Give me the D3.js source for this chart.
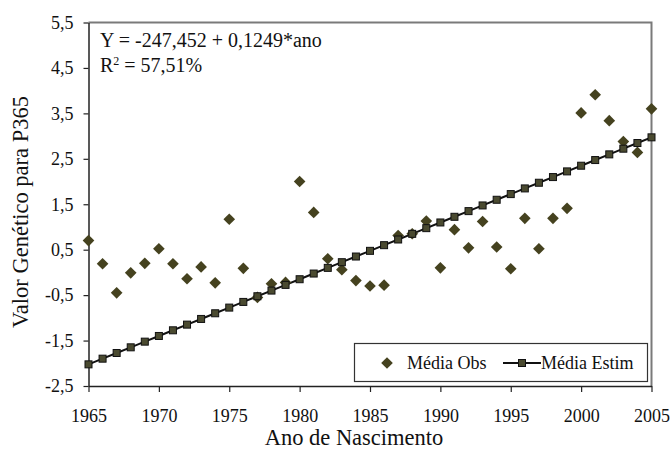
<!DOCTYPE html>
<html>
<head>
<meta charset="utf-8">
<script src="https://cdn.jsdelivr.net/npm/d3@7/dist/d3.min.js"></script>
<style>
  html, body { margin: 0; padding: 0; background: #fff; }
  svg { display: block; }
  svg text { font-family: "Liberation Serif", "Times New Roman", serif; }
</style>
</head>
<body>
<svg id="chart" width="672" height="455"></svg>
<script>
// Birth years
const years = [1965,1966,1967,1968,1969,1970,1971,1972,1973,1974,1975,1976,1977,1978,1979,1980,
  1981,1982,1983,1984,1985,1986,1987,1988,1989,1990,1991,1992,1993,1994,1995,1996,1997,1998,1999,
  2000,2001,2002,2003,2004,2005];

// Observed mean genetic value (P365)
const mediaObs = [0.70,0.19,-0.45,-0.01,0.20,0.52,0.19,-0.14,0.12,-0.23,1.17,0.09,-0.55,-0.25,-0.22,2.00,
  1.32,0.30,0.06,-0.18,-0.30,-0.28,0.81,0.85,1.13,0.10,0.94,0.54,1.12,0.56,0.08,1.19,0.52,1.19,1.41,
  3.51,3.91,3.34,2.88,2.64,3.60];

// Estimated mean: Y = -247,452 + 0,1249*ano
const mediaEstim = [-2.0235,-1.8986,-1.7737,-1.6488,-1.5239,-1.3990,-1.2741,-1.1492,-1.0243,-0.8994,
  -0.7745,-0.6496,-0.5247,-0.3998,-0.2749,-0.1500,-0.0251,0.0998,0.2247,0.3496,0.4745,0.5994,0.7243,
  0.8492,0.9741,1.0990,1.2239,1.3488,1.4737,1.5986,1.7235,1.8484,1.9733,2.0982,2.2231,2.3480,2.4729,
  2.5978,2.7227,2.8476,2.9725];

const xTicks = [1965,1970,1975,1980,1985,1990,1995,2000,2005];
const yTicks = [5.5,4.5,3.5,2.5,1.5,0.5,-0.5,-1.5,-2.5];
const yTickLabels = ["5,5","4,5","3,5","2,5","1,5","0,5","-0,5","-1,5","-2,5"];

const svg = d3.select("#chart");
const plotL = 88.5, plotR = 651.5, plotT = 22.5, plotB = 386;
const serif = "Liberation Serif, Times New Roman, serif";

const x = d3.scaleLinear().domain([1965, 2005]).range([plotL, plotR]);
const y = d3.scaleLinear().domain([-2.5, 5.5]).range([plotB, plotT]);

const markColor = "#45421f";

// Plot frame (top and right edges)
svg.append("path")
  .attr("d", `M${plotL},${plotT}H${plotR}V${plotB}`)
  .attr("fill", "none").attr("stroke", "#7a7a7a").attr("stroke-width", 2);

// Axes
const xAxis = svg.append("g").attr("transform", `translate(0,${plotB})`)
  .call(d3.axisBottom(x).tickValues(xTicks).tickFormat(d3.format("d")).tickSizeInner(6).tickSizeOuter(0).tickPadding(17));
const yAxis = svg.append("g").attr("transform", `translate(${plotL},0)`)
  .call(d3.axisLeft(y).tickValues(yTicks).tickFormat((d, i) => yTickLabels[i]).tickSizeInner(5).tickSizeOuter(0).tickPadding(10));

[xAxis, yAxis].forEach(g => {
  g.attr("font-family", serif).attr("font-size", 18);
  g.select(".domain").attr("stroke", "#222").attr("stroke-width", 1.5);
  g.selectAll(".tick line").attr("stroke", "#222").attr("stroke-width", 1.2);
  g.selectAll(".tick text").attr("fill", "#111");
});

// Axis titles
svg.append("text").attr("x", 354).attr("y", 445).attr("text-anchor", "middle")
  .attr("font-family", serif).attr("font-size", 22.5).attr("fill", "#111").text("Ano de Nascimento");
svg.append("text").attr("transform", "translate(28,212) rotate(-90)").attr("text-anchor", "middle")
  .attr("font-family", serif).attr("font-size", 22.5).attr("fill", "#111").text("Valor Genético para P365");

// Regression equation
const eq = svg.append("g").attr("fill", "#111").attr("font-family", serif).attr("font-size", 20);
eq.append("text").attr("x", 100).attr("y", 47).text("Y = -247,452 + 0,1249*ano");
const r2 = eq.append("text").attr("x", 100).attr("y", 72);
r2.append("tspan").text("R");
r2.append("tspan").attr("dy", -7).attr("font-size", 12).text("2");
r2.append("tspan").attr("dy", 7).text(" = 57,51%");

// Estimated line with square markers
const line = d3.line().x((d, i) => x(years[i])).y(d => y(d));
svg.append("path").datum(mediaEstim).attr("d", line)
  .attr("fill", "none").attr("stroke", "#111").attr("stroke-width", 2);

// Observed means (diamonds)
svg.append("g").selectAll("path").data(mediaObs).join("path")
  .attr("d", d3.symbol().type(d3.symbolSquare).size(68))
  .attr("transform", (d, i) => `translate(${x(years[i])},${y(d)}) rotate(45)`)
  .attr("fill", markColor);

svg.append("g").selectAll("rect").data(mediaEstim).join("rect")
  .attr("x", (d, i) => x(years[i]) - 3.5).attr("y", d => y(d) - 3.5)
  .attr("width", 7).attr("height", 7)
  .attr("fill", "#4a4a30").attr("stroke", "#111").attr("stroke-width", 1);

// Legend
const lg = svg.append("g").attr("font-family", serif).attr("font-size", 18).attr("fill", "#111");
lg.append("rect").attr("x", 354.5).attr("y", 343.5).attr("width", 293).attr("height", 38)
  .attr("fill", "#fff").attr("stroke", "#333").attr("stroke-width", 1.2);
lg.append("path").attr("d", d3.symbol().type(d3.symbolSquare).size(68))
  .attr("transform", "translate(387,363) rotate(45)").attr("fill", markColor);
lg.append("text").attr("x", 407).attr("y", 369).text("Média Obs");
lg.append("line").attr("x1", 503).attr("x2", 541).attr("y1", 363).attr("y2", 363)
  .attr("stroke", "#111").attr("stroke-width", 2);
lg.append("rect").attr("x", 518.5).attr("y", 359.5).attr("width", 7).attr("height", 7)
  .attr("fill", "#4a4a30").attr("stroke", "#111");
lg.append("text").attr("x", 541).attr("y", 369).text("Média Estim");
</script>
</body>
</html>
